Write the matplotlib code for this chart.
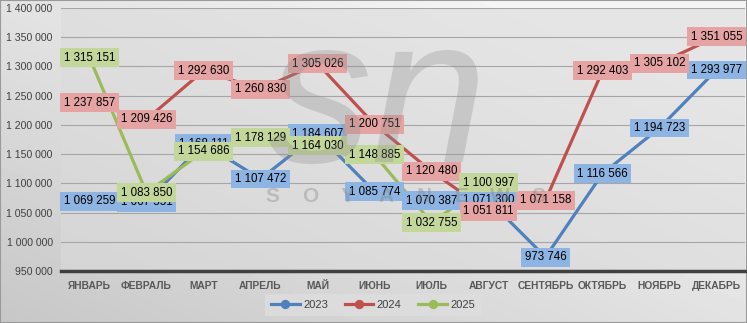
import numpy as np
import matplotlib.pyplot as plt

months = ["ЯНВАРЬ", "ФЕВРАЛЬ", "МАРТ", "АПРЕЛЬ", "МАЙ", "ИЮНЬ",
          "ИЮЛЬ", "АВГУСТ", "СЕНТЯБРЬ", "ОКТЯБРЬ", "НОЯБРЬ", "ДЕКАБРЬ"]
y2023 = [1069259, 1067551, 1168111, 1107472, 1184607, 1085774,
         1070387, 1071300, 973746, 1116566, 1194723, 1293977]
y2024 = [1237857, 1209426, 1292630, 1260830, 1305026, 1200751,
         1120480, 1051811, 1071158, 1292403, 1305102, 1351055]
y2025 = [1315151, 1083850, 1154686, 1178129, 1164030, 1148885,
         1032755, 1100997]

series = [
    ("2023", y2023, "#4f81bd", "#8db4e2"),
    ("2024", y2024, "#c0504d", "#e6a3a3"),
    ("2025", y2025, "#9bbb59", "#c4d79b"),
]

plt.rcParams['font.family'] = ['Liberation Sans', 'DejaVu Sans']

fig = plt.figure(figsize=(7.47, 3.23), dpi=100)

# gradient background
bg = fig.add_axes([0, 0, 1, 1], zorder=-10)
gx, gy = np.meshgrid(np.linspace(0, 1, 200), np.linspace(0, 1, 100))
g = 0.78 + 0.18 * np.clip(0.6 * gx + 0.6 * gy, 0, 1)
bg.imshow(g, cmap="gray", vmin=0, vmax=1, aspect="auto", origin="lower",
          extent=[0, 1, 0, 1])
bg.plot([0, 1, 1, 0, 0], [0, 0, 1, 1, 0], color="#9a9a9a", lw=1.5)
bg.set_xlim(0, 1)
bg.set_ylim(0, 1)
bg.axis("off")

ax = fig.add_axes([61 / 747, 52 / 323, 684 / 747, 263 / 323])
ax.set_facecolor((0.86, 0.86, 0.86, 0.6))
x = np.arange(len(months))

for name, vals, lc, bc in series:
    xs = x[:len(vals)]
    ax.plot(xs, vals, color=lc, lw=2.3, marker="o", ms=9.5,
            label=name, zorder=3)

for name, vals, lc, bc in series:
    for xi, v in zip(x, vals):
        s = f"{v:,}".replace(",", " ")
        ax.text(xi, v, s, ha="center", va="center", fontsize=8.3,
                color="black", zorder=5,
                bbox=dict(boxstyle="square,pad=0.3", fc=bc, ec="none"))

ax.set_xlim(-0.5, 11.5)
ax.set_ylim(950000, 1400000)
ticks = np.arange(950000, 1400001, 50000)
ax.set_yticks(ticks)
ax.set_yticklabels([f"{t:,}".replace(",", " ") for t in ticks],
                   fontsize=7.6, color="#404040")
ax.set_xticks(x)
ax.set_xticklabels(months, fontsize=7.4, color="#595959", fontweight="bold")
ax.tick_params(length=0, pad=7)
ax.tick_params(axis="y", pad=6)
ax.grid(axis="y", color="#a6a6a6", lw=0.8)
ax.set_axisbelow(True)
for sp in ["top", "right", "left"]:
    ax.spines[sp].set_visible(False)
ax.spines["bottom"].set_color("#404040")
ax.spines["bottom"].set_linewidth(2.5)

# watermark
fig.text(378 / 747, 1 - 108 / 323, "sn", fontsize=150, style="italic",
         color="#8c8c8c", alpha=0.3, ha="center", va="center",
         zorder=10)
for i, ch in enumerate("SOYANEWS"):
    fig.text((272 + 38 * i) / 747, 1 - 196 / 323, ch, fontsize=15,
             fontweight="bold", color="#808080", alpha=0.35,
             ha="center", va="center", zorder=10)

leg = ax.legend(loc="center", bbox_to_anchor=(373 / 747, 1 - 305 / 323),
                bbox_transform=fig.transFigure, ncol=3, frameon=True,
                fontsize=8, handlelength=2.6, columnspacing=1.5,
                borderpad=0.25, handletextpad=0.3, markerscale=0.6)
leg.get_frame().set_facecolor("#dedede")
leg.get_frame().set_edgecolor("none")
leg.get_frame().set_boxstyle("square")
for t in leg.get_texts():
    t.set_color("#404040")

fig.savefig("out.png", dpi=100)
